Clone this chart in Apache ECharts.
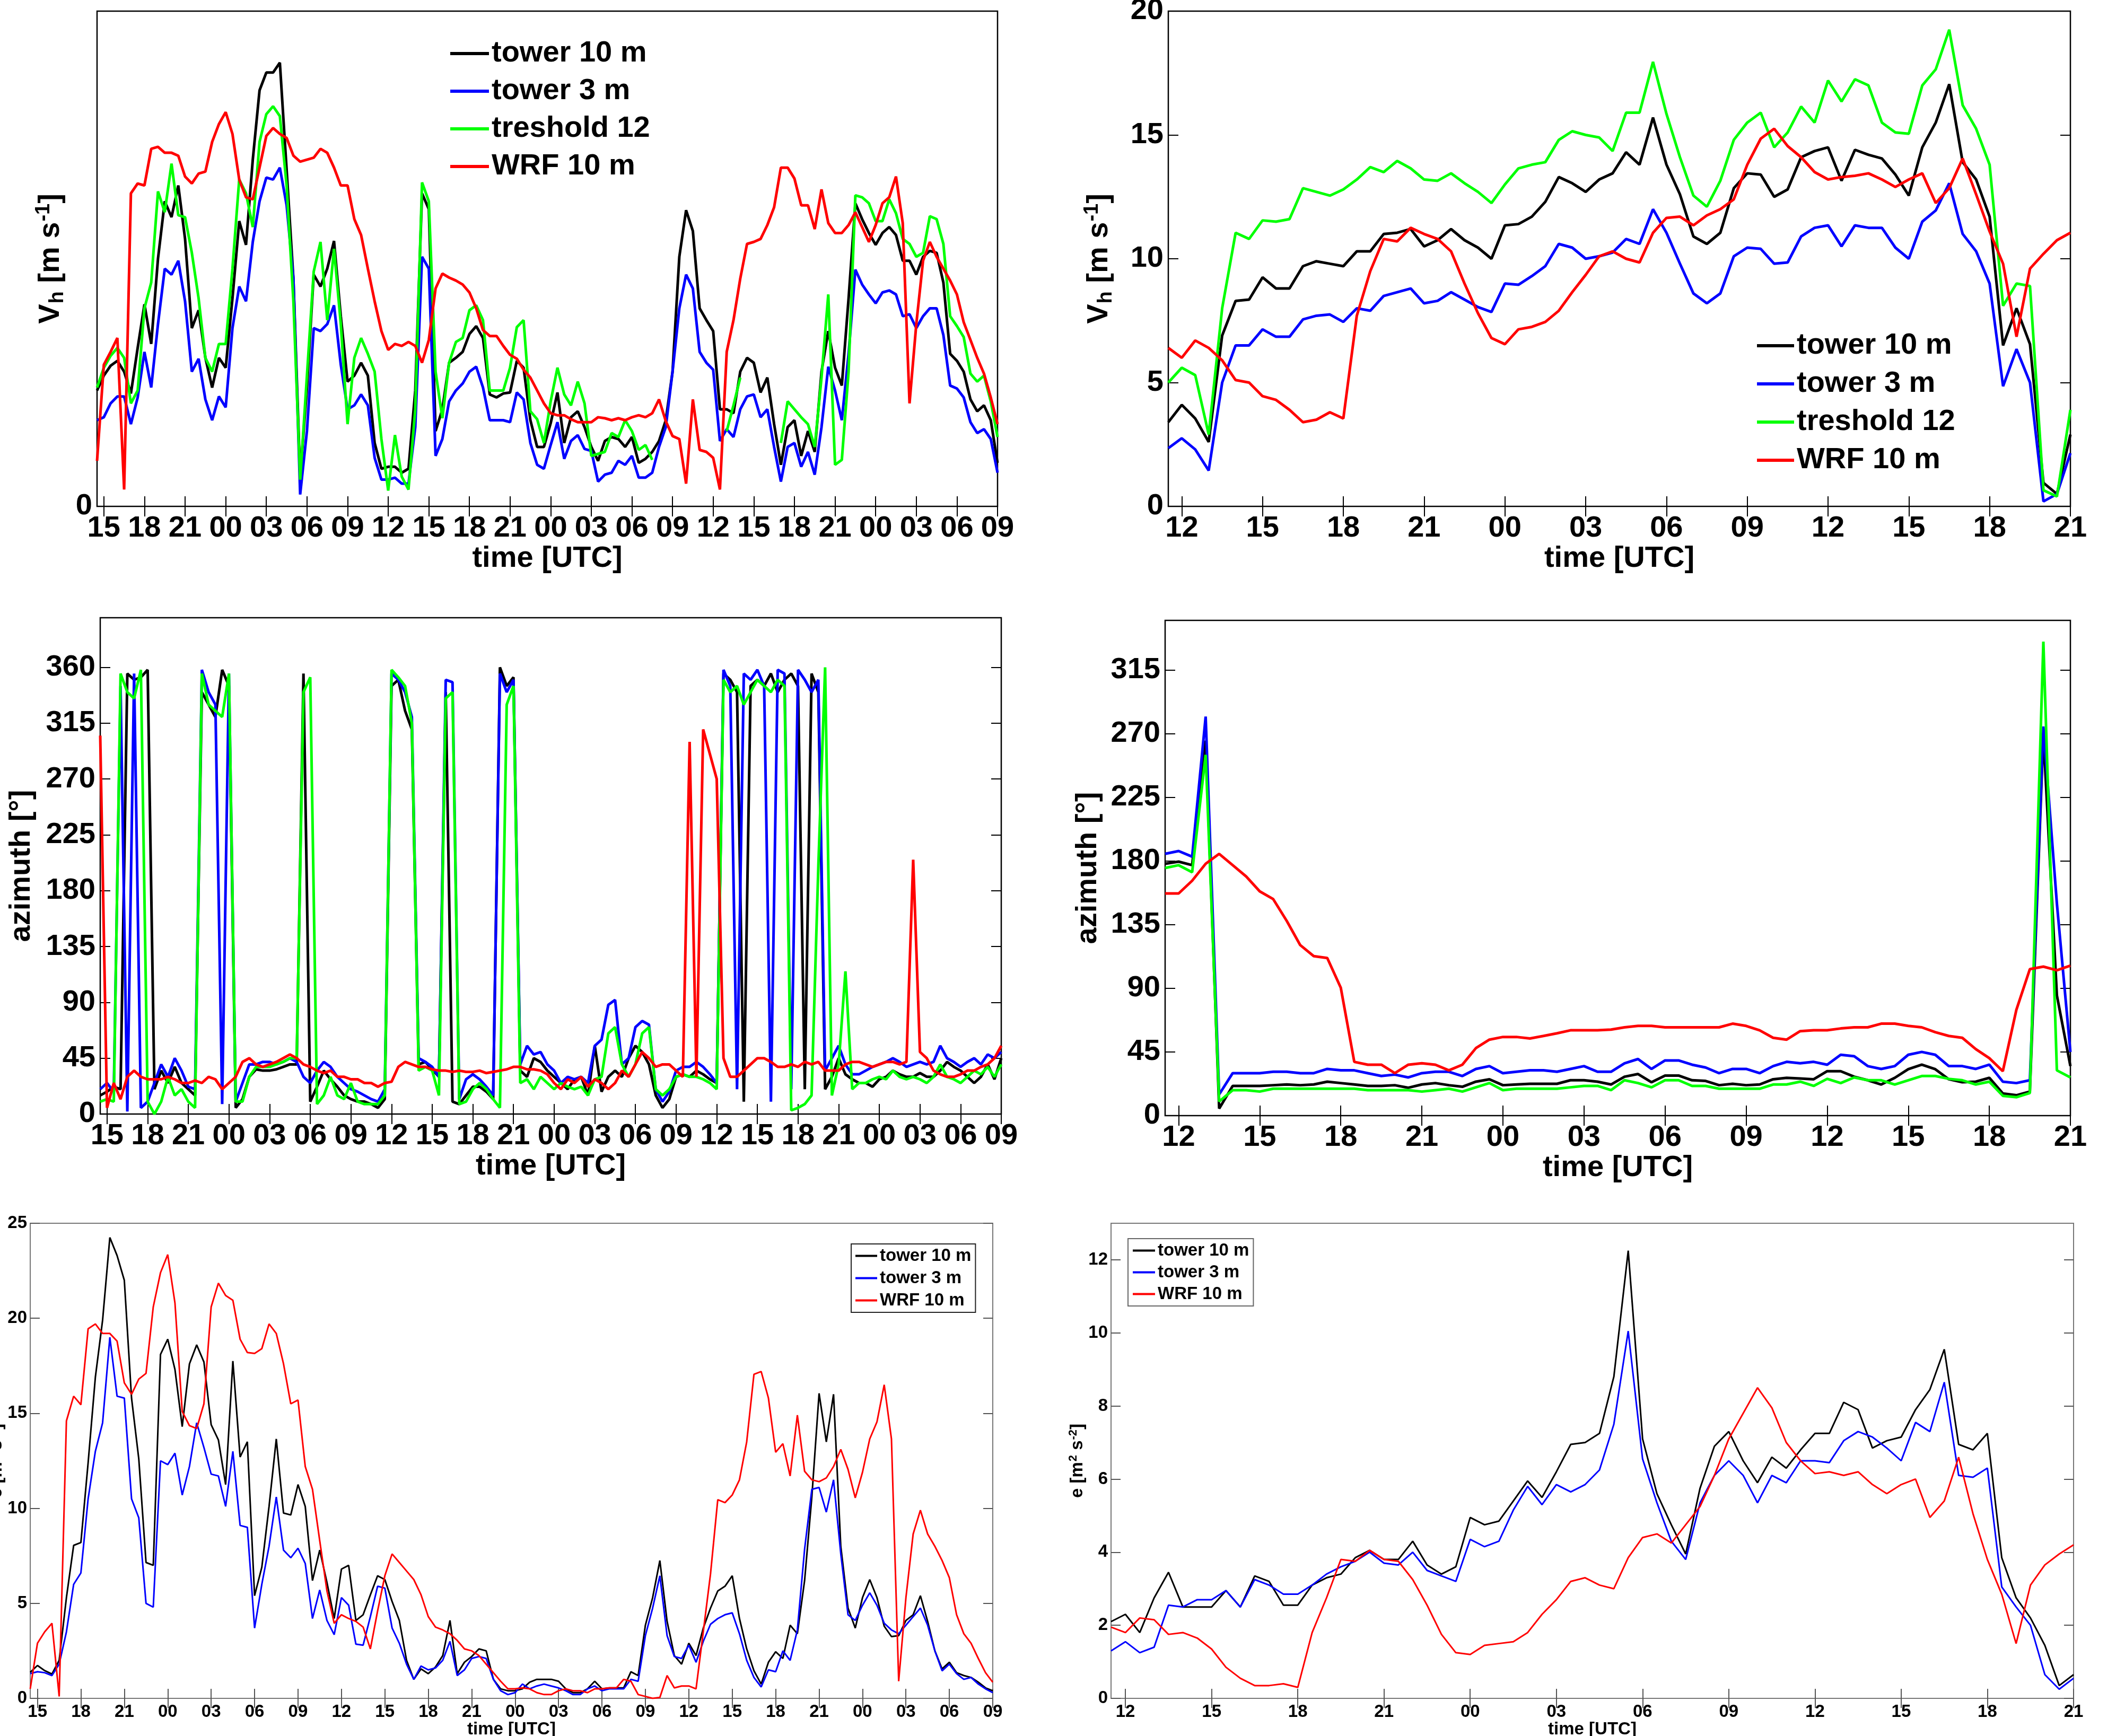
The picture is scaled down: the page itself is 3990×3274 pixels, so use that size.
<!DOCTYPE html>
<html><head><meta charset="utf-8">
<script src="https://cdn.jsdelivr.net/npm/echarts@6/dist/echarts.min.js"></script>
<style>html,body{margin:0;padding:0;background:#fff}#c{width:3990px;height:3274px}</style>
</head><body><div id="c"></div>
<script>
// ---------------- DATA ----------------
// time in hours from 00 UTC of the first day, 30-min step
const leftStart = 14.5, rightStart = 11.5, stepH = 0.5;
const leftTicks = [15,18,21,24,27,30,33,36,39,42,45,48,51,54,57,60,63,66,69,72,75,78,81];
const rightTicks = [12,15,18,21,24,27,30,33,36,39,42,45];
const vhLeftYTicks = [0];
const vhRightYTicks = [0,5,10,15,20];
const azLeftYTicks = [0,45,90,135,180,225,270,315,360];
const azRightYTicks = [0,45,90,135,180,225,270,315];
const eLeftYTicks = [0,5,10,15,20,25];
const eRightYTicks = [0,2,4,6,8,10,12];
const names = ['tower 10 m','tower 3 m','treshold 12','WRF 10 m'];

// Panel 1: Vh left
const vhL_t10 = [5.85,6.6,7.1,7.35,6.8,5.7,8.0,10.2,8.2,12.5,
15.4,14.6,16.2,13.5,9.0,9.9,7.5,6.0,7.5,7.0,
10.5,14.4,13.2,17.5,21.0,21.9,21.9,22.4,17.0,11.5,
1.5,6.0,11.7,11.1,12.0,13.4,9.6,6.3,6.6,7.25,
6.6,3.2,1.9,2.0,2.0,1.7,1.9,5.85,15.8,15.0,
3.8,4.9,7.25,7.5,7.8,8.7,9.1,8.5,5.65,5.5,
5.7,5.75,7.35,7.0,4.35,3.0,3.0,4.2,5.75,3.2,
4.5,4.8,4.0,3.0,2.3,3.3,3.5,3.4,3.0,3.5,
2.2,2.4,2.75,3.3,4.35,6.8,12.6,14.95,13.9,10.0,
9.4,8.85,4.9,4.9,4.7,6.8,7.5,7.25,5.75,6.5,
4.15,2.1,4.0,4.35,2.55,3.8,2.75,6.8,8.85,7.0,
6.1,10.5,15.3,14.5,13.8,13.2,13.8,14.1,13.7,12.4,
12.4,11.7,12.6,12.9,12.8,11.3,7.7,7.35,6.8,5.4,
4.8,5.1,4.35,2.2];
const vhL_t3 = [4.35,4.5,5.2,5.55,5.55,4.15,5.5,7.8,6.0,9.2,
12.0,11.7,12.4,10.35,6.8,7.45,5.4,4.35,5.55,5.0,
9.0,11.1,10.35,13.35,15.4,16.6,16.5,17.1,15.2,11.5,
0.6,3.8,9.0,8.85,9.2,10.15,7.15,4.9,5.1,5.65,
5.1,2.45,1.35,1.35,1.45,1.15,1.15,4.0,12.6,12.0,
2.55,3.4,5.3,5.85,6.2,6.8,7.05,6.0,4.35,4.35,
4.35,4.25,5.75,5.4,3.2,2.1,1.9,3.1,4.25,2.4,
3.3,3.6,2.9,2.8,1.25,1.6,1.7,2.3,2.1,2.55,
1.45,1.45,1.7,3.0,4.0,6.8,10.0,11.7,11.0,7.8,
7.25,6.9,3.3,3.9,3.5,4.9,5.55,5.65,4.5,4.9,
3.0,1.25,3.0,3.2,2.0,2.75,1.6,4.0,7.05,5.85,
4.35,7.7,11.95,11.2,10.7,10.25,10.8,10.9,10.7,9.6,
9.7,9.0,9.6,10.0,10.0,8.65,6.1,5.95,5.5,4.25,
3.7,3.9,3.4,1.7];
const vhL_thr = [6.0,7.0,7.6,8.0,7.5,5.2,5.85,10.0,11.3,15.9,
14.85,17.3,14.7,14.6,12.8,10.5,7.5,6.8,8.2,8.2,
12.0,16.5,15.8,14.1,18.4,19.8,20.2,19.7,16.2,10.35,
1.35,6.6,11.85,13.35,9.4,13.0,9.2,4.15,7.5,8.5,
7.7,6.8,3.4,0.8,3.6,1.5,0.85,4.9,16.35,15.4,
6.8,4.45,7.25,8.3,8.5,9.9,10.15,9.4,5.85,5.85,
5.85,7.0,9.05,9.4,4.8,4.4,3.2,5.3,7.0,5.65,
5.1,6.3,5.2,2.55,2.65,2.75,3.7,3.5,4.35,3.8,
2.85,3.1,2.35,null,null,null,null,null,null,null,
null,null,null,3.8,5.1,6.5,null,null,null,null,
null,3.2,5.3,4.9,4.5,4.15,3.0,6.5,10.7,2.1,
2.35,6.8,15.7,15.6,15.3,14.4,14.4,15.5,14.8,13.5,
13.25,12.6,12.8,14.65,14.5,13.25,9.6,9.1,8.55,6.7,
6.3,6.6,5.3,3.5];
const vhL_wrf = [2.3,7.15,7.8,8.5,0.85,15.8,16.3,16.2,18.05,18.15,
17.85,17.85,17.7,16.65,16.3,16.8,16.9,18.4,19.3,19.9,
18.8,16.5,15.6,15.5,17.1,18.7,19.1,18.8,18.6,17.7,
17.4,17.5,17.6,18.05,17.85,17.1,16.2,16.2,14.5,13.7,
12.0,10.35,8.85,7.9,8.2,8.1,8.3,8.1,7.25,8.4,
11.0,11.75,11.55,11.4,11.2,10.8,10.0,8.9,8.6,8.6,
8.1,7.65,7.45,6.9,6.5,5.85,5.2,4.7,4.6,4.6,
4.4,4.25,4.25,4.25,4.5,4.45,4.35,4.45,4.35,4.5,
4.6,4.5,4.7,5.4,4.3,3.55,3.4,1.15,5.4,2.85,
2.75,2.45,0.85,7.8,9.4,11.5,13.25,13.35,13.5,14.2,
15.1,17.1,17.1,16.55,15.2,15.2,14.0,16.0,14.3,13.8,
13.8,14.2,14.85,14.1,13.35,14.2,15.3,15.6,16.65,14.3,
5.2,9.2,12.4,13.35,12.6,12.0,11.4,10.7,9.3,8.4,
7.5,6.7,5.5,4.15];

// Panel 2: Vh right
const vhR_t10 = [3.4,4.1,3.55,2.6,6.9,8.3,8.35,9.25,8.8,8.8,
9.7,9.9,9.8,9.7,10.3,10.3,11.0,11.05,11.2,10.5,
10.75,11.2,10.75,10.45,10.0,11.35,11.4,11.7,12.3,13.3,
13.05,12.7,13.2,13.45,14.3,13.8,15.7,13.8,12.6,10.9,
10.6,11.05,12.85,13.45,13.4,12.5,12.8,14.1,14.35,14.5,
13.15,14.4,14.2,14.05,13.4,12.55,14.5,15.5,17.05,13.9,
13.2,11.7,6.5,8.0,6.55,0.95,0.5,2.9];
const vhR_t3 = [2.35,2.75,2.3,1.45,5.0,6.5,6.5,7.15,6.85,6.85,
7.55,7.7,7.75,7.45,8.0,7.9,8.5,8.65,8.8,8.2,
8.3,8.65,8.35,8.05,7.85,9.0,8.95,9.3,9.7,10.6,
10.45,10.0,10.1,10.25,10.8,10.6,12.0,11.05,9.8,8.6,
8.2,8.6,10.1,10.45,10.4,9.8,9.85,10.9,11.25,11.35,
10.5,11.35,11.25,11.25,10.45,10.0,11.5,11.95,13.05,11.0,
10.3,9.0,4.85,6.35,5.0,0.2,0.5,2.15];
const vhR_thr = [5.0,5.6,5.3,2.9,8.0,11.05,10.8,11.55,11.5,11.6,
12.85,12.7,12.55,12.8,13.2,13.7,13.5,13.95,13.65,13.2,
13.15,13.45,13.05,12.7,12.25,13.0,13.65,13.8,13.9,14.8,
15.15,15.0,14.9,14.35,15.9,15.9,17.95,15.85,14.1,12.55,
12.1,13.15,14.8,15.5,15.9,14.5,15.1,16.15,15.5,17.2,
16.35,17.25,17.0,15.5,15.1,15.05,17.0,17.65,19.25,16.2,
15.25,13.8,8.1,9.0,8.9,0.65,0.4,3.9];
const vhR_wrf = [6.4,6.0,6.7,6.4,5.9,5.1,5.0,4.45,4.3,3.9,
3.4,3.5,3.8,3.55,7.7,9.5,10.8,10.7,11.25,11.0,
10.8,10.3,9.0,7.8,6.8,6.55,7.15,7.25,7.45,7.9,
8.65,9.35,10.1,10.3,10.0,9.85,11.05,11.65,11.7,11.35,
11.75,12.0,12.4,13.8,14.85,15.25,14.55,14.1,13.5,13.2,
13.3,13.35,13.45,13.2,12.9,13.2,13.45,12.25,12.85,14.05,
12.6,11.1,9.8,6.85,9.6,10.2,10.75,11.05];

// Panel 3: azimuth left
const azL_t10 = [15,18,22,20,355,350,352,358,20,35,
25,38,25,20,15,340,330,320,358,345,
5,12,30,36,35,35,36,38,40,40,
355,10,22,35,28,22,15,12,10,10,
8,5,12,345,350,325,310,40,42,36,
30,340,10,8,15,22,22,18,12,360,
345,352,35,30,45,42,35,30,25,20,
28,30,15,55,18,30,35,30,45,55,
50,40,15,5,12,30,32,30,35,32,
28,25,355,350,340,10,345,350,345,355,
340,350,355,345,20,355,340,20,30,45,
32,28,25,25,22,28,30,35,32,30,
30,33,30,30,35,42,38,35,30,25,
30,40,28,45];
const azL_t3 = [20,25,18,345,2,355,5,10,25,40,
30,45,35,22,20,358,340,330,8,355,
10,25,40,40,42,42,40,42,45,42,
30,25,35,42,38,30,25,20,18,15,
12,10,20,355,350,340,320,45,42,38,
30,350,348,12,28,32,28,22,15,355,
340,350,40,55,48,50,40,35,25,30,
28,30,25,55,60,88,92,40,45,70,
75,72,20,10,18,35,38,38,42,38,
32,25,358,345,20,355,350,358,345,10,
358,355,20,358,350,340,350,35,45,55,
40,32,32,35,38,40,42,45,42,38,
40,42,40,42,55,45,42,38,42,45,
40,48,45,50];
const azL_thr = [10,12,10,355,340,335,358,10,0,10,
30,15,20,10,5,355,330,325,320,355,
10,10,30,38,38,38,40,42,45,45,
340,352,8,15,30,15,12,25,10,8,
8,8,15,358,352,345,315,35,38,35,
15,335,340,8,10,20,25,20,12,5,
330,345,25,28,20,30,25,20,25,22,
20,22,15,28,30,65,70,40,30,40,
65,70,20,15,20,30,32,30,30,28,
25,20,350,340,345,330,340,350,345,340,
350,345,3,5,8,15,200,360,15,40,
115,20,25,25,28,30,28,35,30,28,
30,28,25,30,40,30,28,25,30,35,
32,38,30,40];
const azL_wrf = [305,5,25,12,30,35,30,28,28,28,
30,28,25,25,27,25,30,28,20,25,
30,42,45,40,38,40,42,45,48,45,
40,38,35,33,35,30,30,28,28,25,
25,22,25,26,38,42,40,38,38,36,
35,35,34,35,34,34,35,33,34,35,
36,38,38,36,36,35,32,25,20,28,
25,30,22,28,25,20,25,35,30,40,
50,45,38,40,40,35,30,300,30,310,
290,270,45,30,30,35,40,45,45,42,
38,38,40,38,42,40,42,35,35,35,
40,42,42,40,38,40,42,42,40,42,
205,50,45,35,32,30,30,32,35,35,
38,40,45,55];

// Panel 4: azimuth right
const azR_t10 = [178,179.5,177,265,5,21,21,21,21.5,22,
21.5,22,24,23,22,21,21,21.5,19.7,22,
23,21.5,20.4,24,25.7,21.5,22,22.5,22.5,22.5,
25,25,24,22,27.5,29.4,23.6,28.3,28.3,25,
24.5,21.5,22.5,21.5,22,25.7,26.7,26.2,25.7,31.4,
31.4,27.5,25,22,26.7,32.8,36,32.8,25.7,23.6,
24,26.7,15.7,14.4,17,270,85,35];
const azR_t3 = [185,187,183,282,15,30,30,30,31,31,
30,30,33,32,32,30,28,29,27,30,
31,31,28,33,35,30,31,32,32,31,
33,35,31,31,37,40,33,39,39,36,
34,30,33,33,30,35,38,37,38,36,
43,42,35,33,35,43,45,43,35,35,
33,36,24,23,25,275,150,45];
const azR_thr = [175,177,172,255,10,18,18,17,19,19,
19,19,19,19,19,18,18,18,18,17,
18,19,17,20,23,18,19,19,19,19,
20,21,21,18,25,23,20,25,25,21,
21,19,19,19,19,22,22,24,21,26,
23,27,25,25,22,25,28,28,26,25,
22,24,14,13,16,335,32,27];
const azR_wrf = [157,157,166,178,185,177,169,158.5,153,137.6,
120.5,112.7,111.4,90.4,38,36,36,30,36,37,
36,32,36,47.7,53.7,55.6,55.6,54.5,56.3,58.2,
60.3,60.3,60.3,60.8,62.4,63.4,63.4,62.4,62.4,62.4,
62.4,62.4,65,63.4,60.3,55,53.7,59.7,60.3,60.3,
61.6,62.4,62.4,65,65,63.4,62.4,59,56.3,55,
47,40.6,31.4,74.7,103.5,105.3,102.7,106];

// Panel 5: e left
const eL_t10 = [1.37,1.73,1.46,1.28,2.0,5.3,8.05,8.2,12.4,16.9,
19.9,24.25,23.3,22.0,15.8,12.6,7.15,7.0,18.1,18.9,
17.3,14.3,17.6,18.6,17.7,14.4,13.6,11.25,17.75,12.7,
13.5,5.4,6.9,10.1,13.65,9.75,9.65,11.25,10.1,6.2,
7.8,6.1,4.2,6.8,7.0,4.1,4.4,5.45,6.45,6.25,
5.1,4.1,2.0,1.0,1.55,1.3,1.65,2.25,4.1,1.3,
1.9,2.2,2.6,2.5,1.0,0.5,0.4,0.4,0.5,0.85,
1.0,1.0,1.0,0.9,0.5,0.3,0.3,0.5,0.9,0.5,
0.55,0.55,0.55,1.4,1.2,3.85,5.3,7.25,4.05,2.25,
1.8,2.9,2.25,3.7,4.75,5.65,5.9,6.45,4.2,2.6,
1.45,0.75,1.9,2.45,2.1,3.85,3.4,6.2,10.6,16.05,
13.5,16.0,8.0,4.75,3.7,5.3,6.25,5.3,3.8,3.25,
3.3,4.1,4.4,5.4,4.05,2.5,1.55,1.9,1.35,1.2,
1.1,0.85,0.55,0.4];
const eL_t3 = [1.3,1.4,1.35,1.2,1.8,3.5,6.0,6.6,10.5,13.0,
14.5,19.0,15.9,15.8,10.5,9.5,5.0,4.8,12.5,12.3,
12.9,10.7,12.2,14.5,13.2,11.8,11.7,10.1,13.0,9.1,
9.0,3.7,6.0,8.0,10.6,7.8,7.4,7.9,7.1,4.2,
5.7,4.1,3.35,5.3,4.9,2.85,2.8,4.3,5.9,5.8,
3.7,2.9,1.8,1.0,1.7,1.5,1.6,2.0,3.0,1.2,
1.5,2.1,2.2,2.1,1.0,0.4,0.2,0.3,0.75,0.5,
0.65,0.75,0.65,0.55,0.4,0.2,0.2,0.5,0.65,0.4,
0.5,0.5,0.5,1.0,0.9,3.3,4.75,6.45,3.3,2.2,
2.1,2.8,1.9,3.0,3.9,4.2,4.4,4.5,3.4,2.0,
1.1,0.6,1.5,1.4,2.5,2.0,3.6,7.85,11.0,11.1,
9.8,11.5,7.6,4.4,4.1,4.9,5.55,4.9,3.95,3.6,
3.4,3.85,4.3,4.75,3.85,2.5,1.45,1.8,1.3,1.0,
1.1,0.75,0.5,0.3];
const eL_wrf = [0.5,2.9,3.5,3.95,0.1,14.6,15.9,15.45,19.45,19.7,
19.2,19.2,18.8,16.6,16.0,16.8,17.1,20.6,22.4,23.35,
20.8,15.1,14.35,14.2,15.5,20.6,21.85,21.2,20.95,18.9,
18.2,18.15,18.4,19.7,19.2,17.6,15.5,15.7,12.2,11.0,
8.3,5.65,3.95,4.4,4.2,4.05,3.75,2.6,4.6,6.45,
7.6,7.15,6.7,6.25,5.45,4.3,3.75,3.6,3.4,3.05,
2.6,2.5,2.25,1.8,1.35,0.9,0.5,0.5,0.55,0.5,
0.3,0.2,0.2,0.4,0.5,0.4,0.4,0.3,0.5,0.5,
0.55,0.55,1.0,0.9,0.2,0.1,0.0,0.05,1.2,0.55,
0.65,0.65,0.5,3.5,6.55,10.45,10.3,10.7,11.5,13.5,
17.05,17.2,15.8,12.95,13.4,11.7,14.9,11.95,11.5,11.4,
11.6,12.2,13.1,12.05,10.55,11.9,13.65,14.55,16.5,13.65,
0.9,5.3,8.65,9.9,8.65,8.0,7.25,6.35,4.4,3.4,
2.9,2.1,1.35,0.85];

// Panel 6: e right
const eR_t10 = [2.1,2.3,1.8,2.75,3.45,2.5,2.5,2.5,2.95,2.5,
3.35,3.2,2.55,2.55,3.1,3.3,3.4,3.85,4.05,3.8,
3.8,4.3,3.65,3.4,3.6,4.95,4.75,4.85,5.4,5.95,
5.5,6.2,6.95,7.0,7.25,8.8,12.25,7.1,5.6,4.75,
3.95,5.75,6.9,7.3,6.5,5.9,6.6,6.3,6.8,7.25,
7.25,8.1,7.9,6.85,7.05,7.15,7.9,8.45,9.55,6.95,
6.8,7.25,3.85,2.75,2.2,1.45,0.35,0.65];
const eR_t3 = [1.3,1.55,1.25,1.4,2.55,2.5,2.7,2.7,2.95,2.5,
3.25,3.1,2.85,2.85,3.1,3.4,3.6,3.75,4.0,3.7,
3.65,4.0,3.5,3.35,3.2,4.35,4.15,4.3,5.15,5.8,
5.3,5.85,5.65,5.85,6.25,7.5,10.05,6.55,5.35,4.3,
3.8,5.35,6.1,6.5,6.1,5.35,6.1,5.9,6.5,6.5,
6.45,7.05,7.3,7.15,6.85,6.5,7.55,7.3,8.65,6.1,
6.05,6.3,3.05,2.5,2.0,0.65,0.25,0.55];
const eR_wrf = [1.95,1.8,2.2,2.15,1.75,1.8,1.65,1.35,0.85,0.55,
0.35,0.35,0.4,0.3,1.8,2.75,3.8,3.75,4.05,3.8,
3.75,3.25,2.55,1.75,1.25,1.2,1.45,1.5,1.55,1.8,
2.3,2.7,3.2,3.3,3.1,3.0,3.85,4.4,4.5,4.25,
4.75,5.25,6.1,7.1,7.8,8.5,7.95,7.0,6.5,6.15,
6.2,6.1,6.2,5.85,5.6,5.85,6.0,4.95,5.4,6.6,
5.05,3.8,2.85,1.5,3.1,3.65,3.95,4.2];

// ---------------- CHART ----------------
const FONT = '"Liberation Sans", Arial, Helvetica, sans-serif';
const COLORS = {'tower 10 m':'#000000','tower 3 m':'#0000ff','treshold 12':'#00ff00','WRF 10 m':'#ff0000'};
function pad2(v){ const h = ((Math.round(v) % 24) + 24) % 24; return (h < 10 ? '0' : '') + h; }
function pairs(start, arr){ return arr.map((v, i) => [start + i * stepH, v === null ? '-' : v]); }

const BIG = {fs:56, tick:19, tickW:2, tickColor:'#000', border:'#000', borderW:2.5, lw:5, xMargin:14, yMargin:9};
const SMALL = {fs:33, tick:18, tickW:2, tickColor:'#555', border:'#777', borderW:2, lw:3, xMargin:9, yMargin:6};

function rich(fs){
  const b = {fontWeight:'bold', fontFamily:FONT, color:'#000'};
  const s = Math.round(fs * 0.68), p = Math.round(fs * 0.47);
  return {
    n: Object.assign({fontSize:fs}, b),
    sb: Object.assign({fontSize:s, padding:[p,0,0,1]}, b),
    sp: Object.assign({fontSize:s, padding:[0,0,p,1]}, b)
  };
}
const vhName = '{n|V}{sb|h}{n| [m s}{sp|-1}{n|]}';
const azName = '{n|azimuth [°]}';
const eName = '{n|e [m}{sp|2}{n| s}{sp|-2}{n|]}';

const panels = [
  {g:[183,21,1698,934], xr:[14.5,81], xt:leftTicks, yr:[0,25], yt:vhLeftYTicks, yTick:false, st:BIG,
   yname:vhName, ygap:55, xgap:66, start:leftStart, data:[vhL_t10, vhL_t3, vhL_thr, vhL_wrf]},
  {g:[2203,21,1701,934], xr:[11.5,45], xt:rightTicks, yr:[0,20], yt:vhRightYTicks, yTick:true, st:BIG,
   yname:vhName, ygap:98, xgap:66, start:rightStart, data:[vhR_t10, vhR_t3, vhR_thr, vhR_wrf]},
  {g:[189,1165,1699,936], xr:[14.5,81], xt:leftTicks, yr:[0,400], yt:azLeftYTicks, yTick:true, st:BIG,
   yname:azName, ygap:120, xgap:70, start:leftStart, data:[azL_t10, azL_t3, azL_thr, azL_wrf]},
  {g:[2197,1170,1707,934], xr:[11.5,45], xt:rightTicks, yr:[0,350], yt:azRightYTicks, yTick:true, st:BIG,
   yname:azName, ygap:117, xgap:68, start:rightStart, data:[azR_t10, azR_t3, azR_thr, azR_wrf]},
  {g:[57,2307,1815,896], xr:[14.5,81], xt:leftTicks, yr:[0,25], yt:eLeftYTicks, yTick:true, st:SMALL,
   yname:eName, ygap:41, xgap:39, start:leftStart, data:[eL_t10, eL_t3, null, eL_wrf]},
  {g:[2095,2307,1815,896], xr:[11.5,45], xt:rightTicks, yr:[0,13], yt:eRightYTicks, yTick:true, st:SMALL,
   yname:eName, ygap:43, xgap:39, start:rightStart, data:[eR_t10, eR_t3, null, eR_wrf]}
];

const grid = [], xAxis = [], yAxis = [], series = [];
panels.forEach((p, i) => {
  const st = p.st;
  grid.push({left:p.g[0], top:p.g[1], width:p.g[2], height:p.g[3], show:true, containLabel:false,
    outerBoundsMode:'none',
    borderColor:st.border, borderWidth:st.borderW, backgroundColor:'rgba(0,0,0,0)'});
  const lbl = {fontSize:st.fs, fontWeight:'bold', fontFamily:FONT, color:'#000'};
  const tick = (vals, show) => ({show:show, inside:true, length:st.tick, customValues:vals,
    lineStyle:{color:st.tickColor, width:st.tickW}});
  xAxis.push({type:'value', gridIndex:i, min:p.xr[0], max:p.xr[1], position:'bottom',
    axisLine:{show:false}, splitLine:{show:false}, axisTick:tick(p.xt, true),
    axisLabel:Object.assign({customValues:p.xt, formatter:pad2, margin:st.xMargin}, lbl),
    name:'time [UTC]', nameLocation:'middle', nameGap:p.xgap, nameTextStyle:lbl});
  xAxis.push({type:'value', gridIndex:i, min:p.xr[0], max:p.xr[1], position:'top',
    axisLine:{show:false}, splitLine:{show:false}, axisTick:tick(p.xt, true), axisLabel:{show:false}});
  yAxis.push({type:'value', gridIndex:i, min:p.yr[0], max:p.yr[1], position:'left',
    axisLine:{show:false}, splitLine:{show:false}, axisTick:tick(p.yt, p.yTick),
    axisLabel:Object.assign({customValues:p.yt, margin:st.yMargin}, lbl),
    name:p.yname, nameLocation:'middle', nameGap:p.ygap,
    nameTextStyle:Object.assign({rich:rich(st.fs)}, lbl)});
  yAxis.push({type:'value', gridIndex:i, min:p.yr[0], max:p.yr[1], position:'right',
    axisLine:{show:false}, splitLine:{show:false}, axisTick:tick(p.yt, p.yTick), axisLabel:{show:false}});
  p.data.forEach((arr, k) => {
    if (!arr) return;
    const nm = names[k];
    series.push({type:'line', name:nm, xAxisIndex:2*i, yAxisIndex:2*i, data:pairs(p.start, arr),
      symbol:'none', showSymbol:false, connectNulls:false, clip:true,
      lineStyle:{color:COLORS[nm], width:st.lw}, itemStyle:{color:COLORS[nm]}});
  });
});

const bigLegendText = {fontSize:56, fontWeight:'bold', fontFamily:FONT, color:'#000'};
const smallLegendText = {fontSize:33, fontWeight:'bold', fontFamily:FONT, color:'#000'};
const legend = [
  {data:names, orient:'vertical', left:849, top:73, itemWidth:73, itemHeight:6, itemGap:15,
   icon:'rect', selectedMode:false, padding:0, textStyle:bigLegendText},
  {data:names, orient:'vertical', left:3313, top:624, itemWidth:70, itemHeight:6, itemGap:16,
   icon:'rect', selectedMode:false, padding:0, textStyle:bigLegendText},
  {data:['tower 10 m','tower 3 m','WRF 10 m'], orient:'vertical', left:1605, top:2346,
   itemWidth:41, itemHeight:4, itemGap:9, icon:'rect', selectedMode:false, padding:[6,8,6,8],
   borderColor:'#222', borderWidth:2, backgroundColor:'#fff', textStyle:smallLegendText},
  {data:['tower 10 m','tower 3 m','WRF 10 m'], orient:'vertical', left:2127, top:2336,
   itemWidth:42, itemHeight:4, itemGap:8, icon:'rect', selectedMode:false, padding:[6,8,6,9],
   borderColor:'#666', borderWidth:2, backgroundColor:'#fff', textStyle:smallLegendText}
];

const chart = echarts.init(document.getElementById('c'), null, {renderer:'canvas', width:3990, height:3274});
chart.setOption({backgroundColor:'#ffffff', animation:false, grid, xAxis, yAxis, series, legend});
</script>
</body></html>
